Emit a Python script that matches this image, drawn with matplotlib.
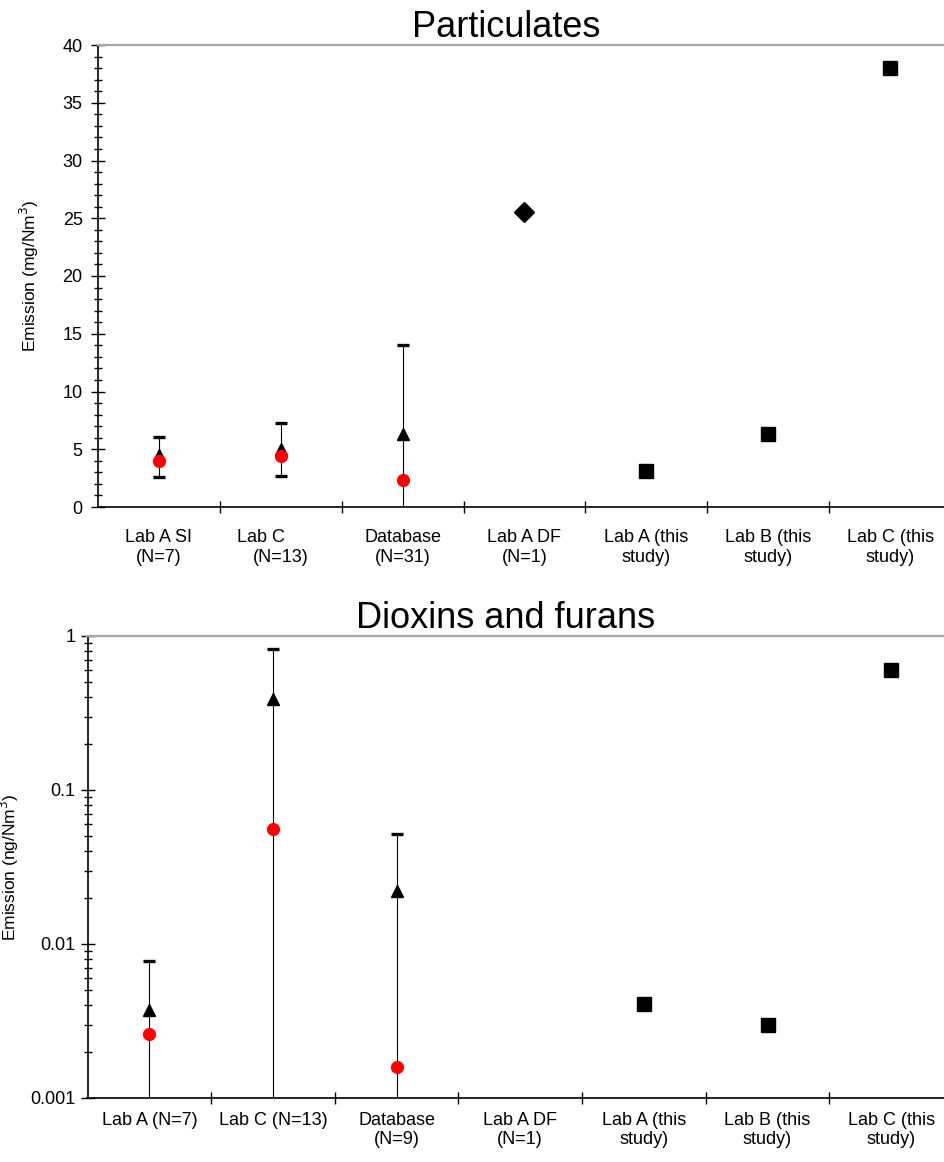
import matplotlib
matplotlib.use('Agg')
import matplotlib.pyplot as plt
import numpy as np
from matplotlib.ticker import MultipleLocator, FixedLocator, LogLocator, NullFormatter, FuncFormatter

plt.rcParams['font.family'] = ['Liberation Sans', 'DejaVu Sans']

# ---- Particulates (mg/Nm3) ----
pm_labels = ['Lab A SI\n(N=7)', 'Lab C        \n(N=13)', 'Database\n(N=31)', 'Lab A DF\n(N=1)',
             'Lab A (this\nstudy)', 'Lab B (this\nstudy)', 'Lab C (this\nstudy)']
pm_mean = [4.5, 5.0, 6.3]        # triangles
pm_median = [4.0, 4.45, 2.35]    # circles
pm_low = [2.6, 2.7, 0.0]
pm_high = [6.05, 7.25, 14.05]
pm_df = [25.5]                   # diamond
pm_study = [3.1, 6.3, 38.0]      # squares

# ---- Dioxins and furans (ng/Nm3) ----
pcdd_labels = ['Lab A (N=7)', 'Lab C (N=13)', 'Database\n(N=9)', 'Lab A DF\n(N=1)',
               'Lab A (this\nstudy)', 'Lab B (this\nstudy)', 'Lab C (this\nstudy)']
pcdd_mean = [0.0037, 0.39, 0.022]
pcdd_median = [0.0026, 0.056, 0.0016]
pcdd_low = [0.0, 0.0, 0.0]
pcdd_high = [0.0077, 0.82, 0.052]
pcdd_study = [0.0041, 0.0030, 0.60]

W, H = 944, 1162
fig = plt.figure(figsize=(W / 100, H / 100), dpi=100)


def px_axes(left, top, right, bottom):
    return fig.add_axes([left / W, 1 - bottom / H, (right - left) / W, (bottom - top) / H])


ax1 = px_axes(98, 45, 951, 507)
ax2 = px_axes(87.5, 636, 953, 1098)

idx_lit = np.arange(3)
idx_df = np.array([3])
idx_study = np.array([4, 5, 6])


def draw(ax, mean, median, low, high, df, study):
    low = np.asarray(low)
    high = np.asarray(high)
    ax.vlines(idx_lit, low, high, colors='black', lw=0.8, zorder=2)
    ax.plot(idx_lit, high, ls='none', marker='_', ms=8, mew=2.4, color='black', zorder=3)
    has_low = low > 0
    ax.plot(idx_lit[has_low], low[has_low], ls='none', marker='_', ms=8, mew=2.4,
            color='black', zorder=3)
    ax.plot(idx_lit, mean, ls='none', marker='^', ms=8.5, color='black', zorder=4)
    ax.plot(idx_lit, median, ls='none', marker='o', ms=8.5, color='#ff0000',
            mec='#ff0000', zorder=5)
    if len(df):
        ax.plot(idx_df, df, ls='none', marker='D', ms=10, color='black', zorder=4)
    ax.plot(idx_study, study, ls='none', marker='s', ms=10, color='black', zorder=4)


def style(ax, labels, xpad, ypad):
    ax.set_xlim(-0.5, 6.5)
    ax.xaxis.set_major_locator(FixedLocator(np.arange(7)))
    ax.set_xticklabels(labels, fontsize=13)
    ax.xaxis.set_minor_locator(FixedLocator(np.arange(0.5, 6.5, 1.0)))
    ax.tick_params(axis='x', which='major', length=0, pad=xpad)
    ax.tick_params(axis='x', which='minor', direction='inout', length=9, width=1)
    ax.spines['right'].set_visible(False)
    ax.spines['top'].set_color('#a6a6a6')
    ax.spines['top'].set_linewidth(1.6)
    ax.spines['left'].set_linewidth(1.2)
    ax.spines['bottom'].set_linewidth(1.2)
    ax.tick_params(axis='y', which='major', direction='inout', length=10, width=1,
                   labelsize=13, pad=ypad)
    ax.tick_params(axis='y', which='minor', direction='inout', length=6, width=1)


draw(ax1, pm_mean, pm_median, pm_low, pm_high, pm_df, pm_study)
style(ax1, pm_labels, xpad=16, ypad=6)
ax1.set_ylim(0, 40)
ax1.yaxis.set_major_locator(MultipleLocator(5))
ax1.yaxis.set_minor_locator(MultipleLocator(1))
ax1.set_ylabel('Emission (mg/Nm$^3$)', fontsize=12.5)
ax1.yaxis.set_label_coords((41 - 98) / 853, 0.5)
ax1.set_title('Particulates', fontsize=26, x=0.478, pad=4)

ax2.set_yscale('log', nonpositive='clip')
draw(ax2, pcdd_mean, pcdd_median, pcdd_low, pcdd_high, [], pcdd_study)
style(ax2, pcdd_labels, xpad=10, ypad=3.5)
ax2.set_ylim(0.001, 1)
ax2.yaxis.set_major_locator(LogLocator(base=10, numticks=10))
ax2.yaxis.set_minor_locator(LogLocator(base=10, subs=np.arange(2, 10), numticks=10))
ax2.yaxis.set_minor_formatter(NullFormatter())
ax2.yaxis.set_major_formatter(FuncFormatter(lambda v, p: f'{v:g}'))
ax2.set_ylabel('Emission (ng/Nm$^3$)', fontsize=12.5)
ax2.yaxis.set_label_coords((21 - 87.5) / 865.5, 0.5)
ax2.set_title('Dioxins and furans', fontsize=26, x=0.4835, pad=4)

fig.savefig('out.png', dpi=100)
